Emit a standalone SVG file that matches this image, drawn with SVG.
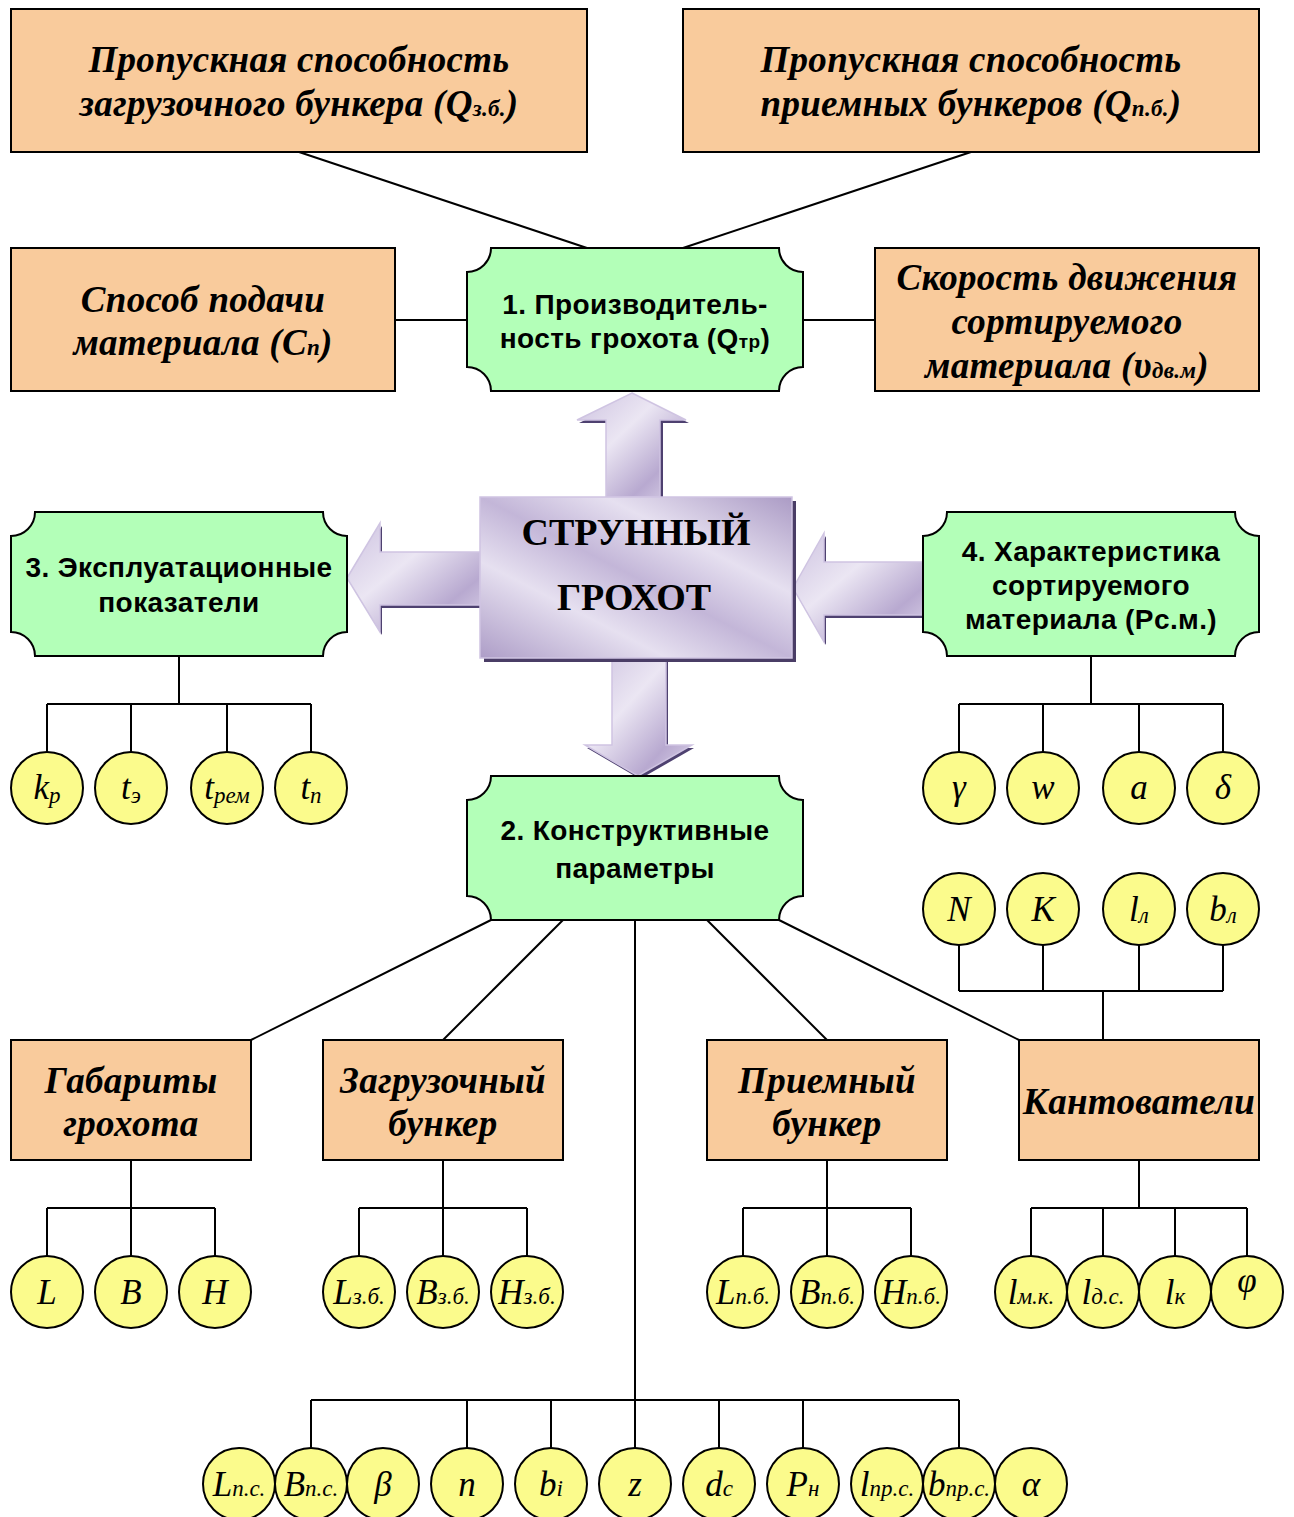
<svg xmlns="http://www.w3.org/2000/svg" width="1294" height="1517" viewBox="0 0 1294 1517">
<style>
.ob{fill:#f9cb9c;stroke:#000;stroke-width:2}
.gn{fill:#b3ffb8;stroke:#000;stroke-width:2}
.cr{fill:#fbfb8c;stroke:#000;stroke-width:2}
.ln{stroke:#000;stroke-width:2;fill:none}
.ot{font-family:"Liberation Serif",serif;font-weight:bold;font-style:italic;font-size:37px;letter-spacing:0.3px;text-anchor:middle;fill:#000}
.gt{font-family:"Liberation Sans",Arial,sans-serif;font-weight:bold;font-size:28px;letter-spacing:0.4px;text-anchor:middle;fill:#000}
.ct{font-family:"Liberation Serif",serif;font-style:italic;font-size:35px;text-anchor:middle;fill:#000}
.sb{font-size:23px}
.mt{font-family:"Liberation Serif",serif;font-weight:bold;font-size:38px;text-anchor:middle;fill:#000}
.ar{fill:url(#ag);stroke:#cfc4e2;stroke-width:1.5}
.as{fill:#4e4170}
</style>
<defs>
<linearGradient id="ag" x1="0" y1="0" x2="1" y2="1">
<stop offset="0" stop-color="#cdc2e0"/>
<stop offset="0.4" stop-color="#ebe6f3"/>
<stop offset="0.75" stop-color="#b8a9d0"/>
<stop offset="1" stop-color="#ddd5ea"/>
</linearGradient>
<linearGradient id="bg" x1="0" y1="1" x2="1" y2="0">
<stop offset="0" stop-color="#ad9dc7"/>
<stop offset="0.3" stop-color="#e6e0f0"/>
<stop offset="0.5" stop-color="#c3b6d8"/>
<stop offset="0.7" stop-color="#e6e0f0"/>
<stop offset="1" stop-color="#ab9bc5"/>
</linearGradient>
</defs>
<rect width="1294" height="1517" fill="#fff"/>

<g id="connectors">
<line class="ln" x1="299" y1="152" x2="587" y2="248"/>
<line class="ln" x1="971" y1="152" x2="683" y2="248"/>
<line class="ln" x1="395" y1="320" x2="467" y2="320"/>
<line class="ln" x1="803" y1="320" x2="875" y2="320"/>
<path class="ln" d="M179 656V704M47 704H311M47 704V752M131 704V752M227 704V752M311 704V752"/>
<path class="ln" d="M1091 656V704M959 704H1223M959 704V752M1043 704V752M1139 704V752M1223 704V752"/>
<path class="ln" d="M959 945V991M1043 945V991M1139 945V991M1223 945V991M959 991H1223M1103 991V1040"/>
<line class="ln" x1="491" y1="920" x2="251" y2="1040"/>
<line class="ln" x1="563" y1="920" x2="443" y2="1040"/>
<line class="ln" x1="707" y1="920" x2="827" y2="1040"/>
<line class="ln" x1="779" y1="920" x2="1019" y2="1040"/>
<path class="ln" d="M635 920V1400M311 1400H959M311 1400V1448M467 1400V1448M551 1400V1448M635 1400V1448M719 1400V1448M803 1400V1448M959 1400V1448"/>
<path class="ln" d="M131 1160V1208M47 1208H215M47 1208V1256M131 1208V1256M215 1208V1256"/>
<path class="ln" d="M443 1160V1208M359 1208H527M359 1208V1256M443 1208V1256M527 1208V1256"/>
<path class="ln" d="M827 1160V1208M743 1208H911M743 1208V1256M827 1208V1256M911 1208V1256"/>
<path class="ln" d="M1139 1160V1208M1031 1208H1247M1031 1208V1256M1103 1208V1256M1175 1208V1256M1247 1208V1256"/>
</g>

<g id="arrows">
<path class="as" d="M634 396L689 423H663V500H608V423H579Z"/>
<path class="ar" d="M632 393L686 420H660V497H606V420H577Z"/>
<path class="as" d="M349 581L382 526V555H482V608H382V635Z"/>
<path class="ar" d="M347 578L380 523V552H480V605H380V632Z"/>
<path class="as" d="M795 591L826 536V565H925V618H826V645Z"/>
<path class="ar" d="M793 588L824 533V562H923V615H824V642Z"/>
<path class="as" d="M614 660H668V748H694L640 779L587 748H614Z"/>
<path class="ar" d="M612 657H666V745H692L638 776L585 745H612Z"/>
</g>

<g id="center">
<rect x="484" y="501" width="312" height="161" fill="#4a3d66"/>
<rect x="480" y="497" width="312" height="161" fill="url(#bg)" stroke="#cfc4e2" stroke-width="1.5"/>
<text class="mt" x="636" y="545">СТРУННЫЙ</text>
<text class="mt" x="634" y="610">ГРОХОТ</text>
</g>

<g id="box-qzb">
<rect class="ob" x="11" y="9" width="576" height="143"/>
<text class="ot" x="299" y="72">Пропускная способность</text>
<text class="ot" x="299" y="116">загрузочного бункера (Q<tspan class="sb">з.б.</tspan>)</text>
</g>
<g id="box-qpb">
<rect class="ob" x="683" y="9" width="576" height="143"/>
<text class="ot" x="971" y="72">Пропускная способность</text>
<text class="ot" x="971" y="116">приемных бункеров (Q<tspan class="sb">п.б.</tspan>)</text>
</g>
<g id="box-cp">
<rect class="ob" x="11" y="248" width="384" height="143"/>
<text class="ot" x="203" y="312">Способ подачи</text>
<text class="ot" x="203" y="355">материала (C<tspan class="sb">п</tspan>)</text>
</g>
<g id="box-v">
<rect class="ob" x="875" y="248" width="384" height="143"/>
<text class="ot" x="1067" y="290">Скорость движения</text>
<text class="ot" x="1067" y="334">сортируемого</text>
<text class="ot" x="1067" y="378">материала (υ<tspan class="sb">дв.м</tspan>)</text>
</g>

<g id="node1">
<path class="gn" d="M491 248H779A24 24 0 0 0 803 272V367A24 24 0 0 0 779 391H491A24 24 0 0 0 467 367V272A24 24 0 0 0 491 248Z"/>
<text class="gt" x="635" y="314">1. Производитель-</text>
<text class="gt" x="635" y="348">ность грохота (Q<tspan font-size="19px">тр</tspan>)</text>
</g>
<g id="node3">
<path class="gn" d="M35 512H323A24 24 0 0 0 347 536V632A24 24 0 0 0 323 656H35A24 24 0 0 0 11 632V536A24 24 0 0 0 35 512Z"/>
<text class="gt" x="179" y="577">3. Эксплуатационные</text>
<text class="gt" x="179" y="612">показатели</text>
</g>
<g id="node4">
<path class="gn" d="M947 512H1235A24 24 0 0 0 1259 536V632A24 24 0 0 0 1235 656H947A24 24 0 0 0 923 632V536A24 24 0 0 0 947 512Z"/>
<text class="gt" x="1091" y="561">4. Характеристика</text>
<text class="gt" x="1091" y="595">сортируемого</text>
<text class="gt" x="1091" y="629">материала (Рс.м.)</text>
</g>
<g id="node2">
<path class="gn" d="M491 776H779A24 24 0 0 0 803 800V896A24 24 0 0 0 779 920H491A24 24 0 0 0 467 896V800A24 24 0 0 0 491 776Z"/>
<text class="gt" x="635" y="840">2. Конструктивные</text>
<text class="gt" x="635" y="878">параметры</text>
</g>

<g id="box-gab">
<rect class="ob" x="11" y="1040" width="240" height="120"/>
<text class="ot" x="131" y="1093">Габариты</text>
<text class="ot" x="131" y="1136">грохота</text>
</g>
<g id="box-zb">
<rect class="ob" x="323" y="1040" width="240" height="120"/>
<text class="ot" x="443" y="1093">Загрузочный</text>
<text class="ot" x="443" y="1136">бункер</text>
</g>
<g id="box-pb">
<rect class="ob" x="707" y="1040" width="240" height="120"/>
<text class="ot" x="827" y="1093">Приемный</text>
<text class="ot" x="827" y="1136">бункер</text>
</g>
<g id="box-kant">
<rect class="ob" x="1019" y="1040" width="240" height="120"/>
<text class="ot" x="1139" y="1114">Кантователи</text>
</g>

<g id="c-kp"><circle class="cr" cx="47" cy="788" r="36"/><text class="ct" x="47" y="799">k<tspan class="sb" dy="4">р</tspan></text></g>
<g id="c-te"><circle class="cr" cx="131" cy="788" r="36"/><text class="ct" x="131" y="799">t<tspan class="sb" dy="4">э</tspan></text></g>
<g id="c-trem"><circle class="cr" cx="227" cy="788" r="36"/><text class="ct" x="227" y="799">t<tspan class="sb" dy="4">рем</tspan></text></g>
<g id="c-tp"><circle class="cr" cx="311" cy="788" r="36"/><text class="ct" x="311" y="799">t<tspan class="sb" dy="4">п</tspan></text></g>

<g id="c-gamma"><circle class="cr" cx="959" cy="788" r="36"/><text class="ct" x="959" y="799">γ</text></g>
<g id="c-w"><circle class="cr" cx="1043" cy="788" r="36"/><text class="ct" x="1043" y="799">w</text></g>
<g id="c-a"><circle class="cr" cx="1139" cy="788" r="36"/><text class="ct" x="1139" y="799">a</text></g>
<g id="c-delta"><circle class="cr" cx="1223" cy="788" r="36"/><text class="ct" x="1223" y="799">δ</text></g>

<g id="c-N"><circle class="cr" cx="959" cy="909" r="36"/><text class="ct" x="959" y="921">N</text></g>
<g id="c-K"><circle class="cr" cx="1043" cy="909" r="36"/><text class="ct" x="1043" y="921">К</text></g>
<g id="c-ll"><circle class="cr" cx="1139" cy="909" r="36"/><text class="ct" x="1139" y="921">l<tspan class="sb" dy="2">л</tspan></text></g>
<g id="c-bl"><circle class="cr" cx="1223" cy="909" r="36"/><text class="ct" x="1223" y="921">b<tspan class="sb" dy="2">л</tspan></text></g>

<g id="c-L"><circle class="cr" cx="47" cy="1292" r="36"/><text class="ct" x="47" y="1304">L</text></g>
<g id="c-B"><circle class="cr" cx="131" cy="1292" r="36"/><text class="ct" x="131" y="1304">B</text></g>
<g id="c-H"><circle class="cr" cx="215" cy="1292" r="36"/><text class="ct" x="215" y="1304">H</text></g>

<g id="c-Lzb"><circle class="cr" cx="359" cy="1292" r="36"/><text class="ct" x="359" y="1304">L<tspan class="sb">з.б.</tspan></text></g>
<g id="c-Bzb"><circle class="cr" cx="443" cy="1292" r="36"/><text class="ct" x="443" y="1304">B<tspan class="sb">з.б.</tspan></text></g>
<g id="c-Hzb"><circle class="cr" cx="527" cy="1292" r="36"/><text class="ct" x="527" y="1304">H<tspan class="sb">з.б.</tspan></text></g>

<g id="c-Lpb"><circle class="cr" cx="743" cy="1292" r="36"/><text class="ct" x="743" y="1304">L<tspan class="sb">п.б.</tspan></text></g>
<g id="c-Bpb"><circle class="cr" cx="827" cy="1292" r="36"/><text class="ct" x="827" y="1304">B<tspan class="sb">п.б.</tspan></text></g>
<g id="c-Hpb"><circle class="cr" cx="911" cy="1292" r="36"/><text class="ct" x="911" y="1304">H<tspan class="sb">п.б.</tspan></text></g>

<g id="c-lmk"><circle class="cr" cx="1031" cy="1292" r="36"/><text class="ct" x="1031" y="1304">l<tspan class="sb">м.к.</tspan></text></g>
<g id="c-lds"><circle class="cr" cx="1103" cy="1292" r="36"/><text class="ct" x="1103" y="1304">l<tspan class="sb">д.с.</tspan></text></g>
<g id="c-lk"><circle class="cr" cx="1175" cy="1292" r="36"/><text class="ct" x="1175" y="1304">l<tspan class="sb">к</tspan></text></g>
<g id="c-phi"><circle class="cr" cx="1247" cy="1292" r="36"/><text class="ct" x="1247" y="1292">φ</text></g>

<g id="c-Lps"><circle class="cr" cx="239" cy="1484" r="36"/><text class="ct" x="239" y="1496">L<tspan class="sb">п.с.</tspan></text></g>
<g id="c-Bps"><circle class="cr" cx="311" cy="1484" r="36"/><text class="ct" x="311" y="1496">B<tspan class="sb">п.с.</tspan></text></g>
<g id="c-beta"><circle class="cr" cx="383" cy="1484" r="36"/><text class="ct" x="383" y="1496">β</text></g>
<g id="c-n"><circle class="cr" cx="467" cy="1484" r="36"/><text class="ct" x="467" y="1496">n</text></g>
<g id="c-bi"><circle class="cr" cx="551" cy="1484" r="36"/><text class="ct" x="551" y="1496">b<tspan class="sb">i</tspan></text></g>
<g id="c-z"><circle class="cr" cx="635" cy="1484" r="36"/><text class="ct" x="635" y="1496">z</text></g>
<g id="c-dc"><circle class="cr" cx="719" cy="1484" r="36"/><text class="ct" x="719" y="1496">d<tspan class="sb">с</tspan></text></g>
<g id="c-Pn"><circle class="cr" cx="803" cy="1484" r="36"/><text class="ct" x="803" y="1496">P<tspan class="sb">н</tspan></text></g>
<g id="c-lps"><circle class="cr" cx="887" cy="1484" r="36"/><text class="ct" x="887" y="1496">l<tspan class="sb">пр.с.</tspan></text></g>
<g id="c-bps"><circle class="cr" cx="959" cy="1484" r="36"/><text class="ct" x="959" y="1496">b<tspan class="sb">пр.с.</tspan></text></g>
<g id="c-alpha"><circle class="cr" cx="1031" cy="1484" r="36"/><text class="ct" x="1031" y="1496">α</text></g>
</svg>
